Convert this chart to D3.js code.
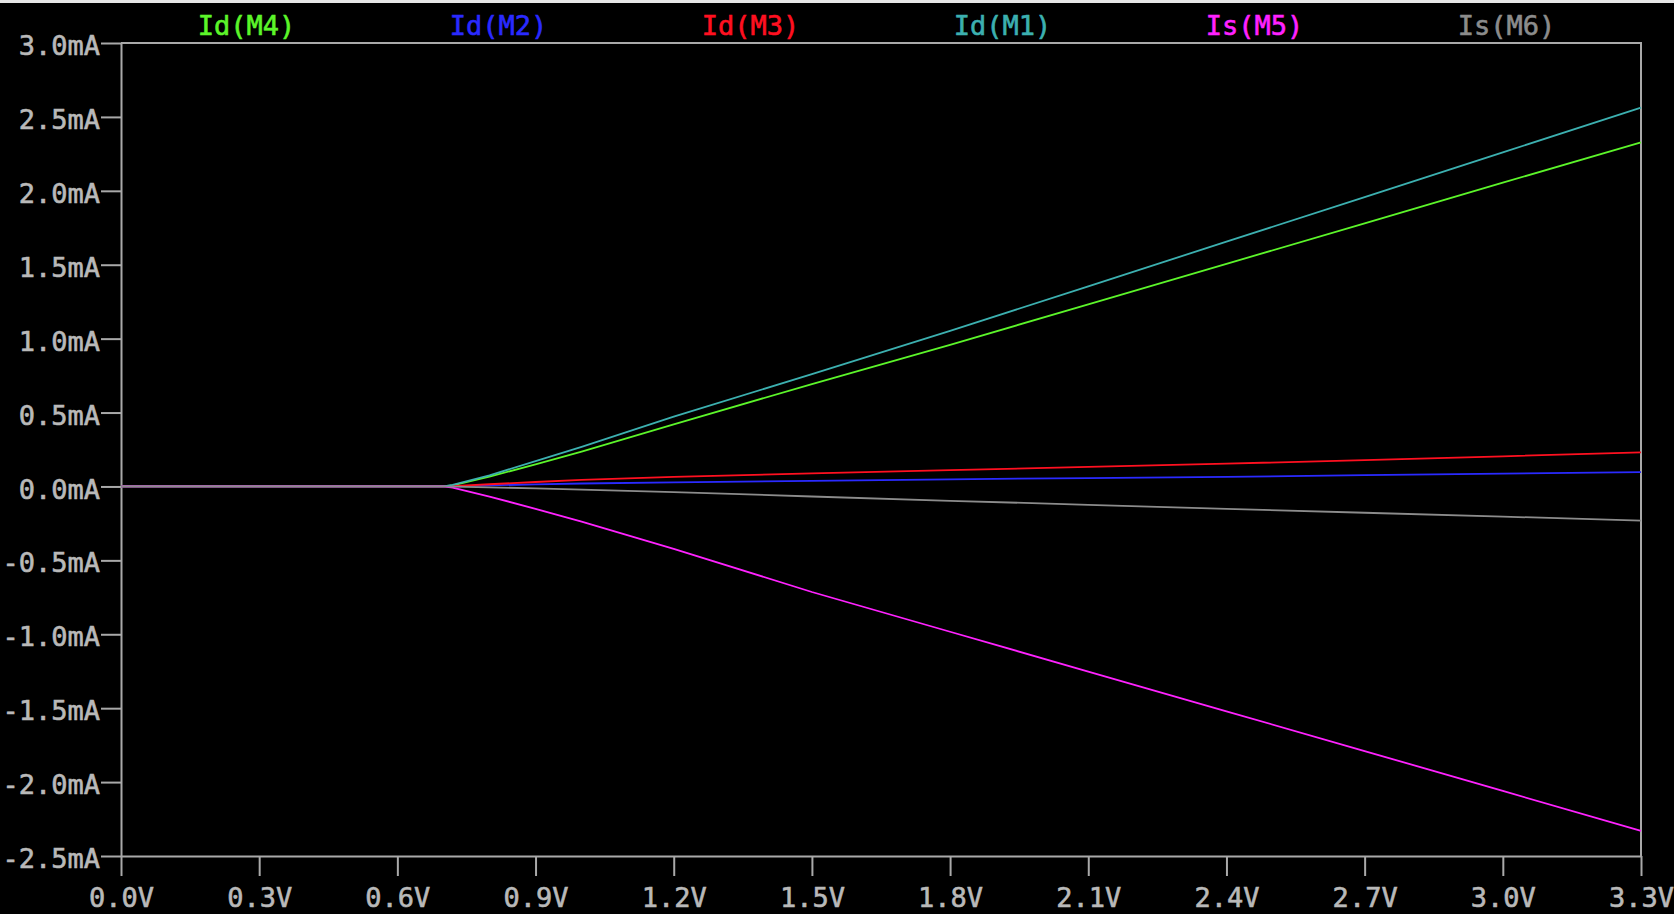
<!DOCTYPE html>
<html>
<head>
<meta charset="utf-8">
<script src="https://cdn.jsdelivr.net/npm/d3@7"></script>
<style>
  html, body { margin: 0; padding: 0; background: #000; }
  svg { display: block; }
  text { font-family: "DejaVu Sans Mono", monospace; }
</style>
</head>
<body>
<svg id="chart" width="1674" height="914"></svg>
<script>
// ---- data ----
const voltages = [0.0, 0.7, 0.72, 0.8, 0.9, 1.0, 1.2, 1.5, 1.8, 2.1, 2.4, 2.7, 3.0, 3.3];
const idM4 = [0, 0, 0.008, 0.066, 0.150, 0.236, 0.420, 0.693, 0.958, 1.232, 1.506, 1.780, 2.055, 2.328];
const idM2 = [0, 0, 0.001, 0.007, 0.014, 0.020, 0.027, 0.038, 0.048, 0.057, 0.065, 0.076, 0.087, 0.0975];
const idM3 = [0, 0, 0.002, 0.015, 0.030, 0.044, 0.065, 0.088, 0.110, 0.132, 0.154, 0.178, 0.204, 0.231];
const idM1 = [0, 0, 0.010, 0.075, 0.172, 0.268, 0.472, 0.760, 1.052, 1.354, 1.656, 1.958, 2.260, 2.563];
const isM5 = [0, 0, -0.008, -0.068, -0.152, -0.238, -0.422, -0.714, -0.983, -1.252, -1.521, -1.790, -2.060, -2.330];
const isM6 = [0, 0, -0.001, -0.006, -0.013, -0.021, -0.038, -0.068, -0.097, -0.124, -0.151, -0.178, -0.204, -0.231];

const seriesNames = ["Id(M4)", "Id(M2)", "Id(M3)", "Id(M1)", "Is(M5)", "Is(M6)"];
const seriesColors = ["#5cf52a", "#2a2aff", "#ff1020", "#3cb0b0", "#ff22ff", "#8c8c8c"];
const seriesValues = [idM4, idM2, idM3, idM1, isM5, isM6];

const xTicks = [0.0, 0.3, 0.6, 0.9, 1.2, 1.5, 1.8, 2.1, 2.4, 2.7, 3.0, 3.3];
const xTickLabels = ["0.0V", "0.3V", "0.6V", "0.9V", "1.2V", "1.5V", "1.8V", "2.1V", "2.4V", "2.7V", "3.0V", "3.3V"];
const yTicks = [3.0, 2.5, 2.0, 1.5, 1.0, 0.5, 0.0, -0.5, -1.0, -1.5, -2.0, -2.5];
const yTickLabels = ["3.0mA", "2.5mA", "2.0mA", "1.5mA", "1.0mA", "0.5mA", "0.0mA", "-0.5mA", "-1.0mA", "-1.5mA", "-2.0mA", "-2.5mA"];

// ---- layout ----
const W = 1674, H = 914;
const plotLeft = 121, plotRight = 1641, plotTop = 43, plotBottom = 856;
const axisColor = "#a9a9a9";
const labelColor = "#b9b9b9";
const fontSize = 27;

const svg = d3.select("#chart");
svg.append("rect").attr("width", W).attr("height", H).attr("fill", "#000");
svg.append("rect").attr("width", W).attr("height", 3).attr("fill", "#e6e6e6");

const x = d3.scaleLinear().domain([0, 3.3]).range([plotLeft, plotRight]);
const y = d3.scaleLinear().domain([-2.5, 3.0]).range([plotBottom, plotTop]);

// frame (top and right)
svg.append("path")
  .attr("d", `M${plotLeft},${plotTop}H${plotRight}V${plotBottom}`)
  .attr("fill", "none").attr("stroke", axisColor).attr("stroke-width", 2);

// axes
const xAxis = d3.axisBottom(x)
  .tickValues(xTicks)
  .tickFormat((d, i) => xTickLabels[i])
  .tickSize(20).tickPadding(12).tickSizeOuter(0);
const yAxis = d3.axisLeft(y)
  .tickValues(yTicks)
  .tickFormat((d, i) => yTickLabels[i])
  .tickSize(20).tickPadding(1).tickSizeOuter(0);

const gx = svg.append("g").attr("transform", `translate(0,${plotBottom})`).call(xAxis);
const gy = svg.append("g").attr("transform", `translate(${plotLeft},0)`).call(yAxis);
[gx, gy].forEach(g => {
  g.select(".domain").attr("stroke", axisColor).attr("stroke-width", 2);
  g.selectAll(".tick line").attr("stroke", axisColor).attr("stroke-width", 2);
  g.selectAll(".tick text")
    .attr("fill", labelColor)
    .attr("stroke", labelColor)
    .attr("stroke-width", 0.6)
    .attr("font-family", "DejaVu Sans Mono, monospace")
    .attr("font-size", fontSize);
});
gy.selectAll(".tick text").attr("dy", "0.43em");

// lines
const line = d3.line()
  .x((d, i) => x(voltages[i]))
  .y(d => y(d));

seriesValues.forEach((vals, k) => {
  svg.append("path")
    .datum(vals)
    .attr("d", line)
    .attr("fill", "none")
    .attr("stroke", seriesColors[k])
    .attr("stroke-width", 1.8)
    .attr("stroke-linejoin", "round");
});

// legend
const legendX = d3.scalePoint().domain(seriesNames).range([246.6, 1506.6]);
svg.append("g").selectAll("text")
  .data(seriesNames)
  .join("text")
  .attr("x", d => legendX(d))
  .attr("y", 35)
  .attr("text-anchor", "middle")
  .attr("font-size", fontSize)
  .attr("fill", (d, i) => seriesColors[i])
  .attr("stroke", (d, i) => seriesColors[i])
  .attr("stroke-width", 0.6)
  .text(d => d);
</script>
</body>
</html>
